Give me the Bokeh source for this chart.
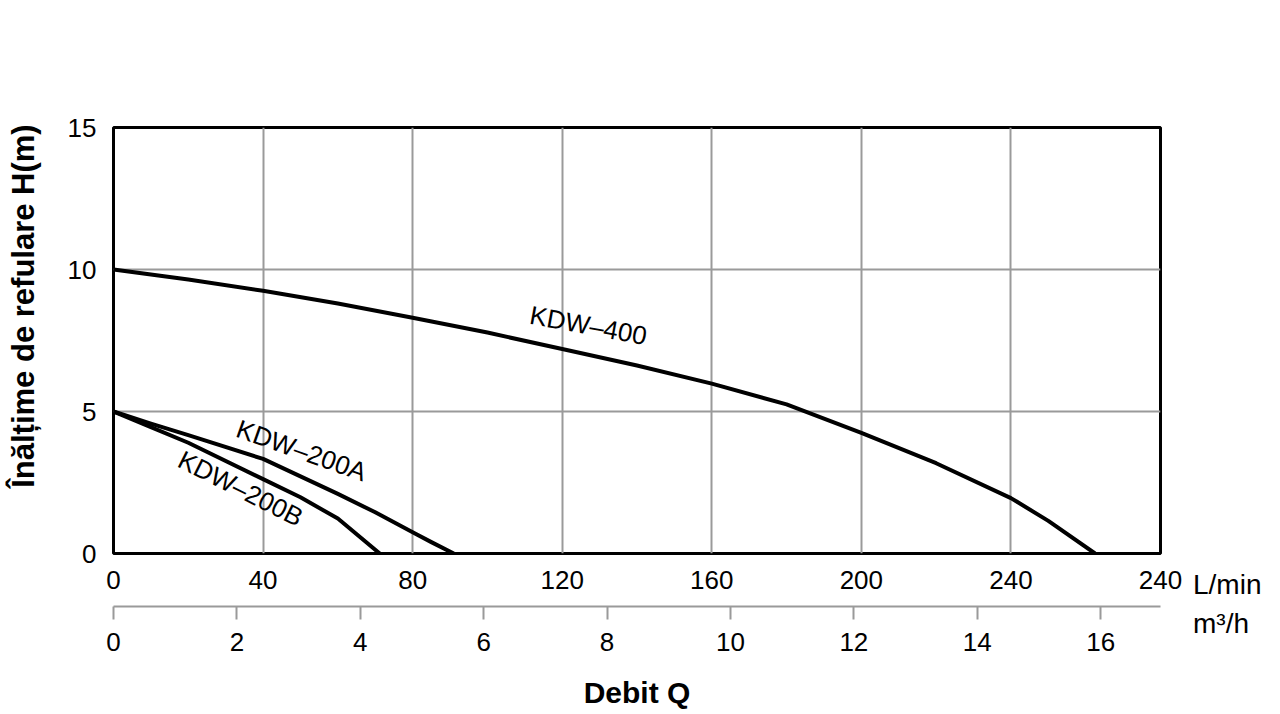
import math
from bokeh.plotting import figure
from bokeh.models import LinearAxis, Range1d, FixedTicker, Label, Div
from bokeh.layouts import column
from bokeh.embed import file_html
from bokeh.resources import INLINE

# ---- data ----
q_400 = [0, 20, 40, 60, 80, 100, 120, 140, 160, 180, 200, 220, 240, 250, 262.5]
h_400 = [10.0, 9.65, 9.25, 8.8, 8.3, 7.78, 7.2, 6.62, 5.98, 5.25, 4.25, 3.18, 1.95, 1.15, 0.0]

q_200a = [0, 10, 20, 40, 60, 70, 80, 85, 91]
h_200a = [5.0, 4.57, 4.17, 3.33, 2.1, 1.45, 0.75, 0.4, 0.0]

q_200b = [0, 10, 20, 40, 50, 60, 71.2]
h_200b = [5.0, 4.45, 3.9, 2.62, 1.98, 1.23, 0.0]

lmin_ticks = [0, 40, 80, 120, 160, 200, 240, 280]
lmin_labels = ["0", "40", "80", "120", "160", "200", "240", "240"]
m3h_ticks = [0, 2, 4, 6, 8, 10, 12, 14, 16]
h_ticks = [0, 5, 10, 15]

series_names = ["KDW–400", "KDW–200A", "KDW–200B"]
unit_names = ["L/min", "m³/h"]
y_title = "Înălțime de refulare H(m)"
x_title = "Debit Q"

FONT = "Liberation Sans"
GRID = "#9a9a9a"

p = figure(frame_width=1047, frame_height=426,
           x_range=Range1d(0, 280), y_range=Range1d(0, 15),
           output_backend="svg", toolbar_location=None,
           min_border_left=113, min_border_right=120,
           min_border_top=127, min_border_bottom=150,
           background_fill_color="white", border_fill_color="white")

p.outline_line_color = "black"
p.outline_line_width = 3

# primary x axis (L/min)
xa = p.xaxis[0]
xa.ticker = FixedTicker(ticks=lmin_ticks)
xa.major_label_overrides = {t: s for t, s in zip(lmin_ticks, lmin_labels)}
xa.axis_line_color = None
xa.major_tick_line_color = None
xa.minor_tick_line_color = None
xa.major_label_text_font = FONT
xa.major_label_text_font_size = "26px"
xa.major_label_text_color = "black"
xa.major_label_standoff = 11
xa.axis_label = " "
xa.axis_label_text_font_size = "1px"
xa.axis_label_standoff = 11

# y axis (title shifted upward with non-breaking spaces, as in the reference)
ya = p.yaxis[0]
ya.ticker = FixedTicker(ticks=h_ticks)
ya.axis_line_color = None
ya.major_tick_line_color = None
ya.minor_tick_line_color = None
ya.major_label_text_font = FONT
ya.major_label_text_font_size = "26px"
ya.major_label_text_color = "black"
ya.major_label_standoff = 11
ya.axis_label = "\u00a0" * 8 + y_title
ya.axis_label_text_font = FONT
ya.axis_label_text_font_size = "31px"
ya.axis_label_text_font_style = "bold"
ya.axis_label_text_color = "black"
ya.axis_label_standoff = 24

p.xgrid.ticker = FixedTicker(ticks=lmin_ticks)
p.ygrid.ticker = FixedTicker(ticks=h_ticks)
for g in (p.xgrid[0], p.ygrid[0]):
    g.grid_line_color = GRID
    g.grid_line_width = 2

# secondary x axis (m3/h)
p.extra_x_ranges = {"m3h": Range1d(0, 16.97)}
ax2 = LinearAxis(x_range_name="m3h", ticker=FixedTicker(ticks=m3h_ticks))
ax2.axis_line_color = GRID
ax2.axis_line_width = 2
ax2.major_tick_line_color = GRID
ax2.major_tick_line_width = 2
ax2.major_tick_out = 13
ax2.major_tick_in = 0
ax2.minor_tick_line_color = None
ax2.major_label_text_font = FONT
ax2.major_label_text_font_size = "26px"
ax2.major_label_text_color = "black"
ax2.major_label_standoff = 13
ax2.axis_label = x_title
ax2.axis_label_text_font = FONT
ax2.axis_label_text_font_size = "30px"
ax2.axis_label_text_font_style = "bold"
ax2.axis_label_text_color = "black"
ax2.axis_label_standoff = 22
p.add_layout(ax2, "below")

# curves
for q, h in [(q_400, h_400), (q_200a, h_200a), (q_200b, h_200b)]:
    p.line(q, h, line_color="black", line_width=4, line_join="round")

# curve labels
for txt, x, y, ang in [(series_names[0], 127, 8.03, -10.4),
                       (series_names[1], 50.3, 3.63, -19.5),
                       (series_names[2], 34.0, 2.29, -26.6)]:
    p.add_layout(Label(x=x, y=y, text=txt, angle=math.radians(ang),
                       text_font=FONT, text_font_size="26px", text_color="black",
                       text_align="center", text_baseline="middle"))

# unit labels to the right of the axes (outside the plot frame)
divs = []
for txt, top in zip(unit_names, [571, 610]):
    divs.append(Div(text=txt, margin=0,
                    styles={"position": "absolute", "left": "1193px", "top": f"{top}px",
                            "font-family": FONT, "font-size": "28px",
                            "line-height": "28px", "color": "black",
                            "padding": "0", "white-space": "nowrap"}))

layout = column(p, *divs, spacing=0)
open("out.html", "w").write(file_html(layout, INLINE))
